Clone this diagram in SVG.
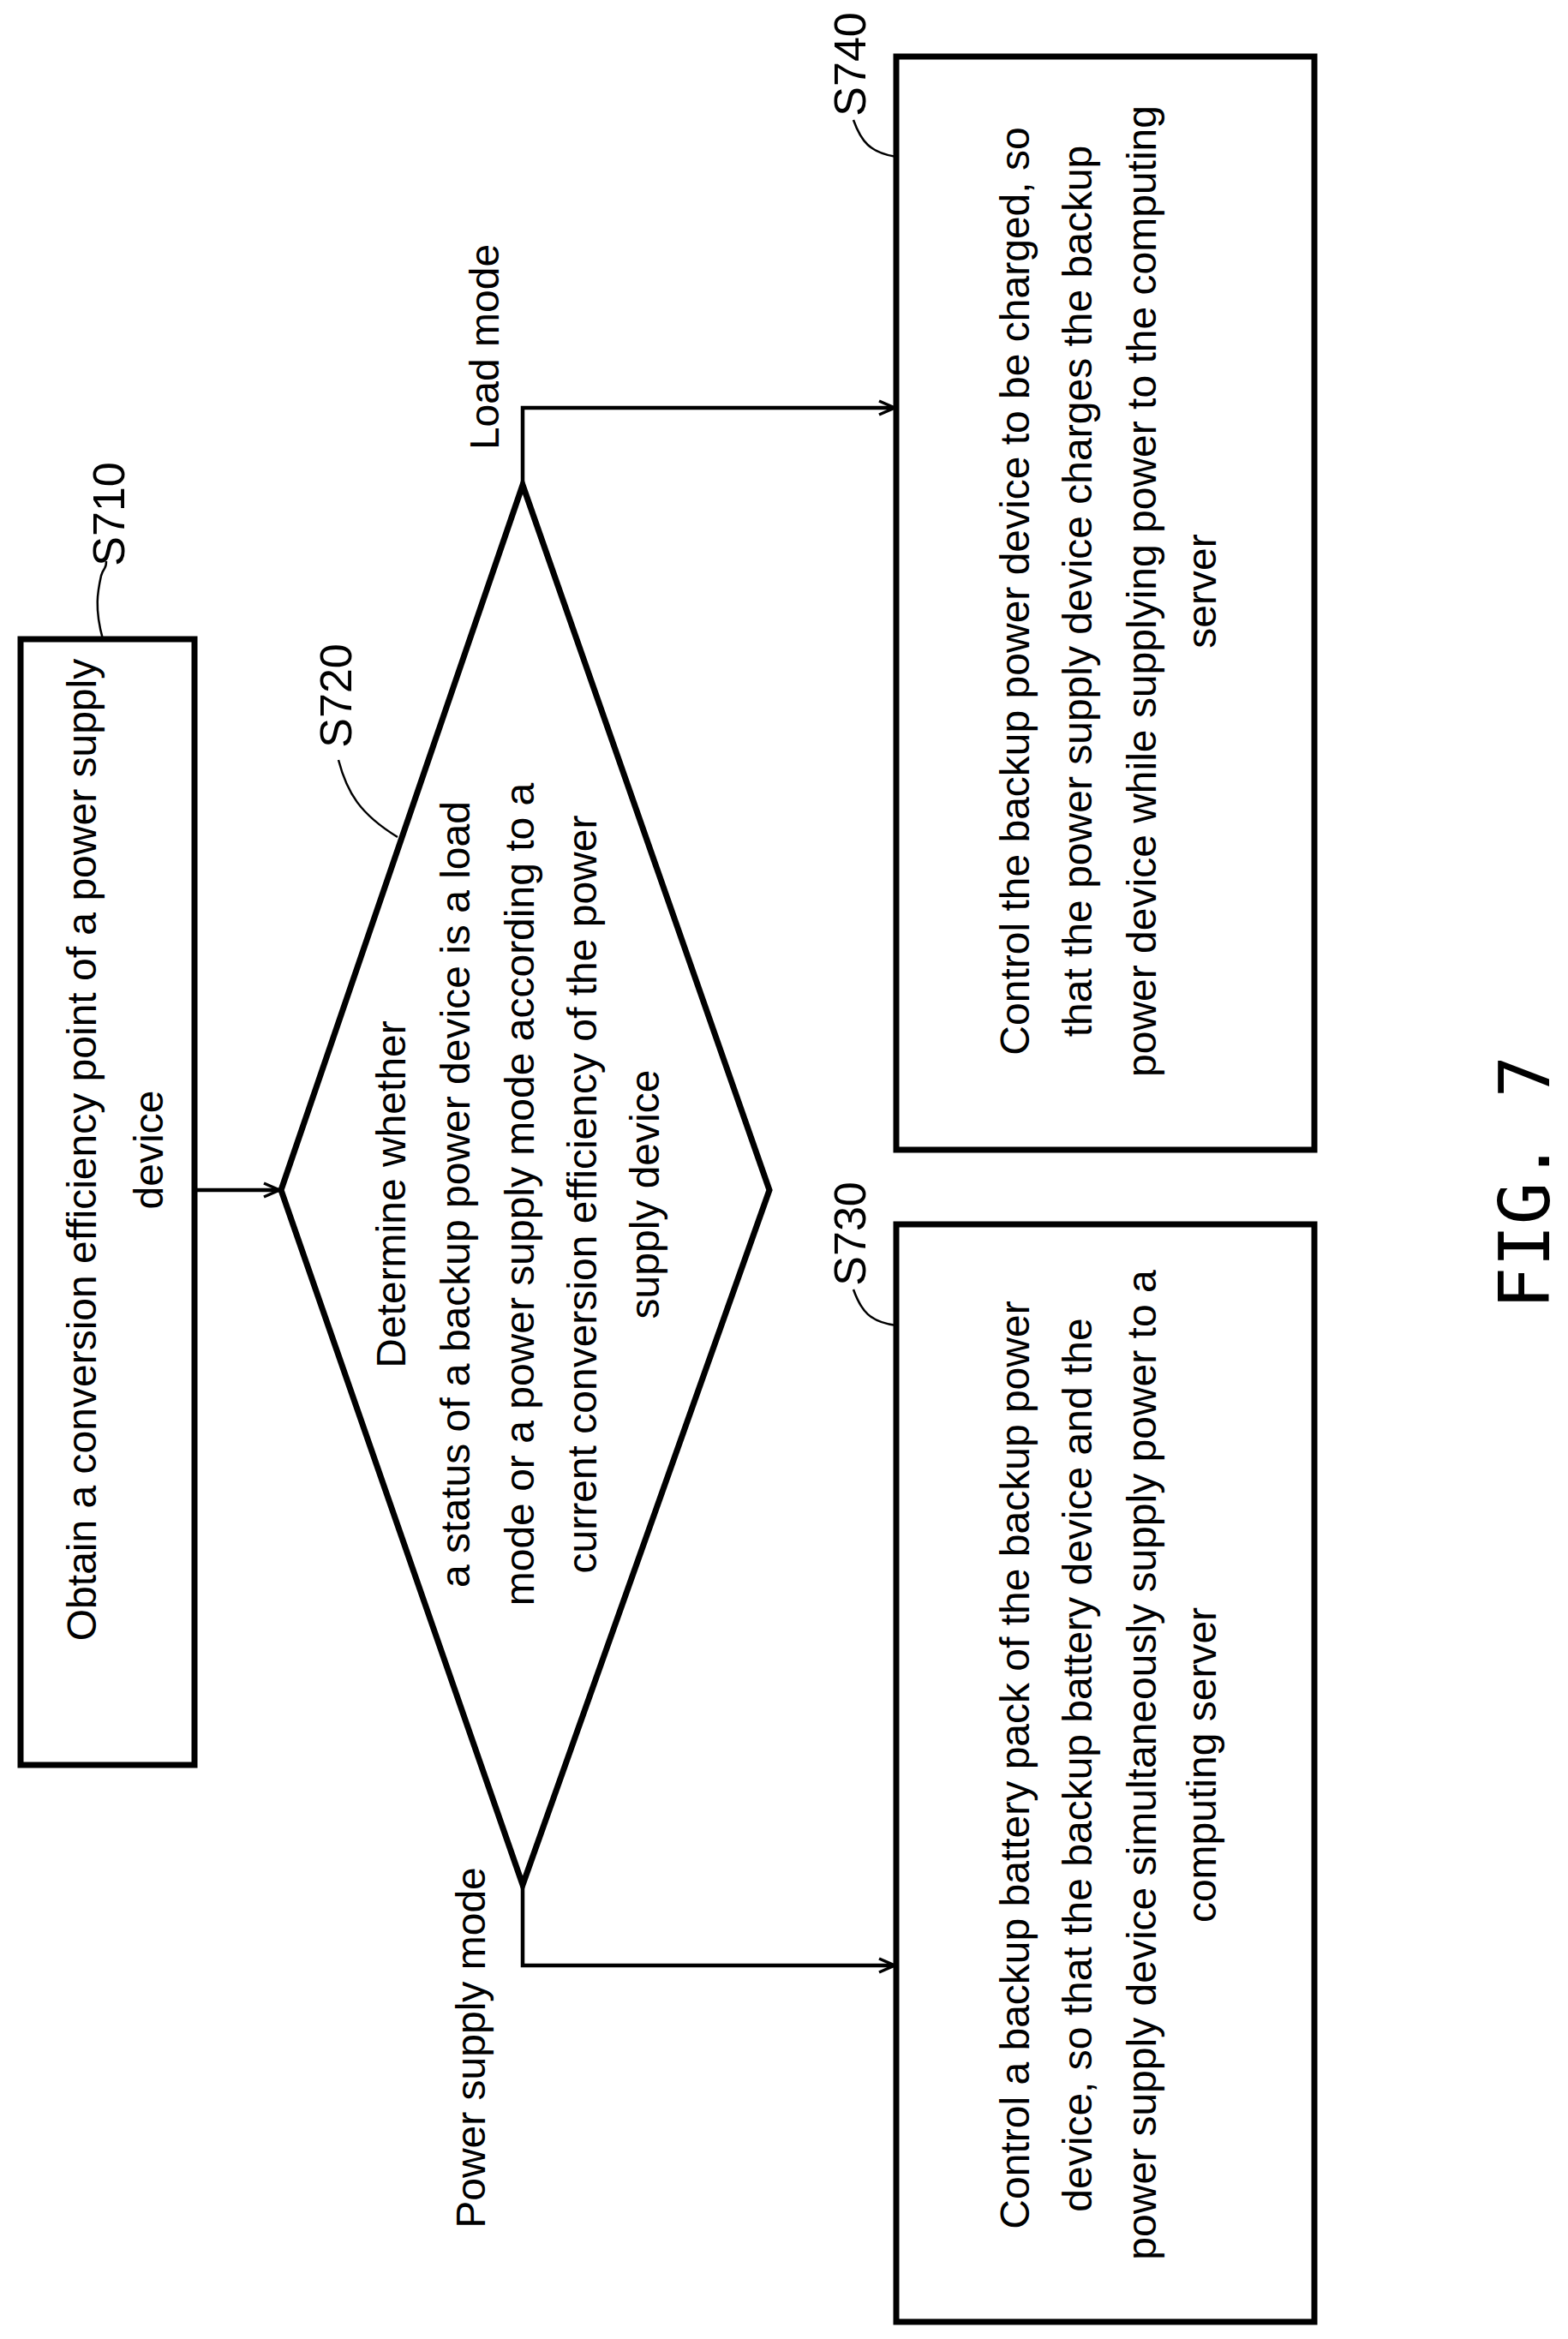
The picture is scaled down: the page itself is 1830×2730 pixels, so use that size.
<svg xmlns="http://www.w3.org/2000/svg" width="1830" height="2730" viewBox="0 0 1830 2730">
<style>
.n{fill:#fff;stroke:#000;stroke-width:7}
.c{fill:none;stroke:#000;stroke-width:4.5}
.l{fill:none;stroke:#000;stroke-width:2.5}
text{font-family:"Liberation Sans",Arial,sans-serif;font-size:48px;fill:#000;text-anchor:middle}
.lb{font-size:52px}
.fig{font-family:"DejaVu Sans Mono","Liberation Mono",monospace;font-size:82px}
</style>
<defs>
<marker id="ar" viewBox="0 0 20 20" refX="20" refY="10" markerWidth="20" markerHeight="20" orient="auto" markerUnits="userSpaceOnUse"><path d="M2,2 L20,10 L2,18" fill="none" stroke="#000" stroke-width="3.5"/></marker></defs>
<g id="connectors">
<path class="c" d="M227,1389 H326" marker-end="url(#ar)"/>
<path class="c" d="M610,566 V476 H1044" marker-end="url(#ar)"/>
<path class="c" d="M610,2200 V2294 H1044" marker-end="url(#ar)"/>
<text transform="translate(582,405) rotate(-90)">Load mode</text>
<text transform="translate(566,2390) rotate(-90)">Power supply mode</text>
</g>
<g id="S710">
<rect class="n" x="24" y="746" width="203" height="1314"/>
<text transform="translate(125,1342) rotate(-90)"><tspan x="0" y="-13">Obtain a conversion efficiency point of a power supply</tspan><tspan x="0" y="65">device</tspan></text>
<path class="l" d="M120,746 C110,710 114,690 118,672 C122,660 124,665 124,655"/>
<text class="lb" transform="translate(145,600) rotate(-90)">S710</text>
</g>
<g id="S720">
<polygon class="n" points="610,566 898,1389 610,2200 328,1389"/>
<text transform="translate(550,1394) rotate(-90)"><tspan x="0" y="-77">Determine whether</tspan><tspan x="0" y="-2">a status of a backup power device is a load</tspan><tspan x="0" y="73">mode or a power supply mode according to a</tspan><tspan x="0" y="146">current conversion efficiency of the power</tspan><tspan x="0" y="219">supply device</tspan></text>
<path class="l" d="M395,887 C405,925 420,950 464,977"/>
<text class="lb" transform="translate(410,812) rotate(-90)">S720</text>
</g>
<g id="S740">
<rect class="n" x="1046" y="66" width="488" height="1276"/>
<text transform="translate(1290,690) rotate(-90)"><tspan x="0" y="-89">Control the backup power device to be charged, so</tspan><tspan x="0" y="-16">that the power supply device charges the backup</tspan><tspan x="0" y="59">power device while supplying power to the computing</tspan><tspan x="0" y="129">server</tspan></text>
<path class="l" d="M996,140 C1005,165 1015,178 1046,183"/>
<text class="lb" transform="translate(1010,75) rotate(-90)">S740</text>
</g>
<g id="S730">
<rect class="n" x="1046" y="1429" width="488" height="1281"/>
<text transform="translate(1290,2060) rotate(-90)"><tspan x="0" y="-89">Control a backup battery pack of the backup power</tspan><tspan x="0" y="-16">device, so that the backup battery device and the</tspan><tspan x="0" y="59">power supply device simultaneously supply power to a</tspan><tspan x="0" y="129">computing server</tspan></text>
<path class="l" d="M996,1505 C1005,1530 1015,1543 1046,1547"/>
<text class="lb" transform="translate(1010,1440) rotate(-90)">S730</text>
</g>
<text class="fig" transform="translate(1808,1380) rotate(-90)">FIG. 7</text>
</svg>
